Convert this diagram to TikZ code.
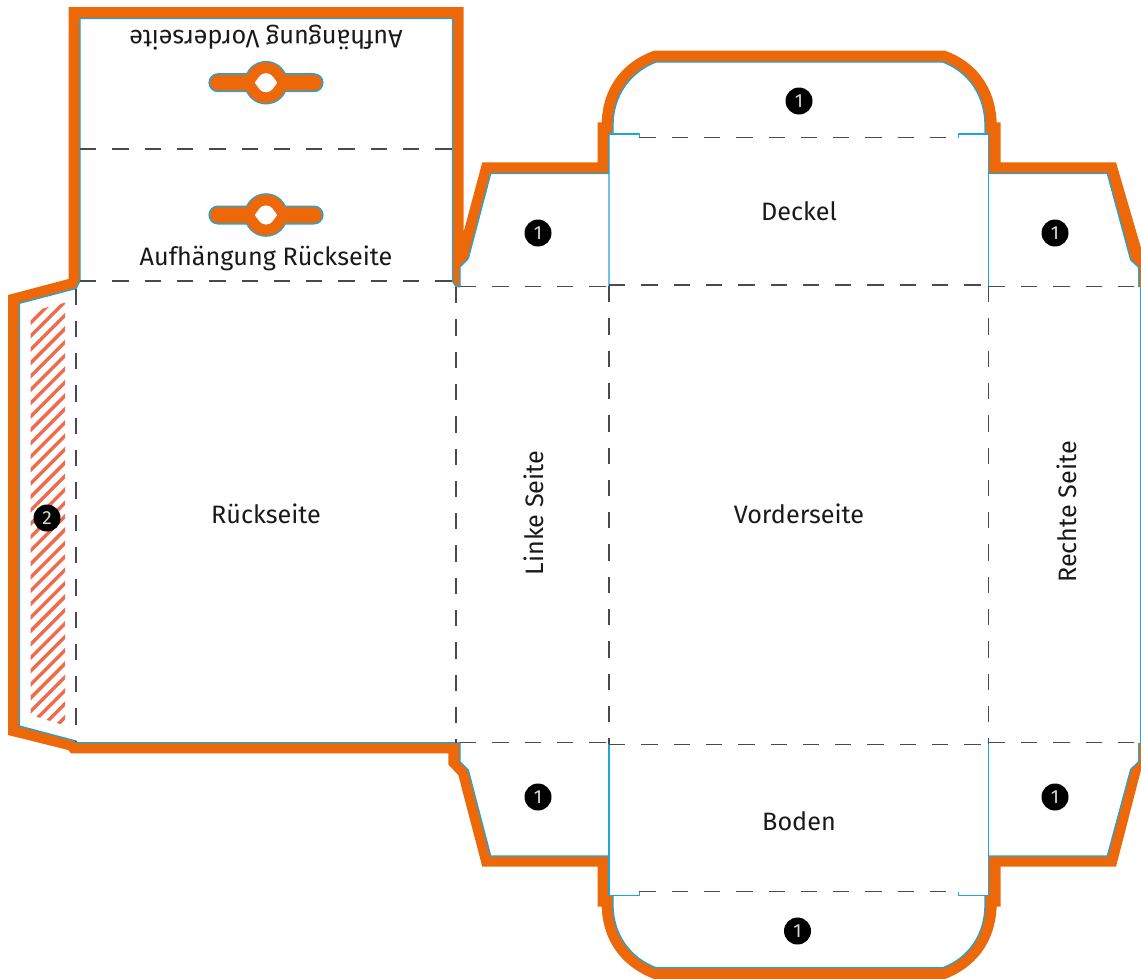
\documentclass[tikz,border=0pt]{standalone}
\usepackage{fontspec}
\setmainfont{Fira Sans}[Scale=1]
\definecolor{cutorange}{HTML}{ED6808}
\definecolor{cutblue}{HTML}{1DA5DC}
\definecolor{hatchred}{HTML}{EE6C4D}
\definecolor{foldgray}{HTML}{4A4A4A}
\tikzset{
  foldline/.style={draw=foldgray,line width=1.3pt,dash pattern=on 16.3pt off 16pt},
  cutline/.style={draw=cutblue,line width=1.3pt,line join=round},
  label/.style={font=\fontsize{25.2}{29}\selectfont,text=black!90,inner sep=0pt},
  badge/.style={circle,fill=black,text=white!85!black,minimum size=27pt,inner sep=0pt,font=\fontsize{19}{22}\selectfont},
}
\begin{document}
\begin{tikzpicture}[x=1pt,y=-1pt]
\useasboundingbox (0,0) rectangle (1141,978);
\clip (0,0) rectangle (1141,978);
% hatch
\begin{scope}
\clip (30.7,311.7) -- (65,302.7) -- (65,725.5) -- (30.7,715) -- cycle;
\foreach \k in {0,...,36}{
  \draw[hatchred,line width=3.4pt] (20,{320+\k*13.4}) -- (80,{260+\k*13.4});
}
\end{scope}
% orange body with inner hole
\fill[cutorange,even odd rule]
 (68.5,7) -- (463.7,7) -- (463.7,231.7) -- (482.3,162.3) -- (597.7,162.3) -- (597.7,122.3) -- (601.7,122.3)
 .. controls (603,85) and (625,61) .. (654,50.7) -- (945,50.7)
 .. controls (974,61) and (995,85) .. (996.7,122.3) -- (1000.7,122.3) -- (1000.7,162.3) -- (1116,162.3)
 -- (1141,248) -- (1141,770) -- (1116,866.7) -- (1000.7,866.7) -- (1000.7,906.7) -- (996.7,906.7)
 .. controls (995,944) and (974,968) .. (945,979) -- (654,979)
 .. controls (625,968) and (603,944) .. (601.7,906.7) -- (597.7,906.7) -- (597.7,866.7) -- (482.3,866.7)
 -- (458.3,775) -- (448.3,764.5) -- (448.3,753.3) -- (71,753.3) -- (68.3,750) -- (8,735) -- (8,295) -- (68.5,279) -- cycle
 (80,18.4) -- (452.4,18.4) -- (452.4,281) -- (456,286.7) -- (460,286.7) -- (460,267) -- (468.3,258.5) -- (490.7,173.5) -- (609,173.5)
 -- (609,134) -- (613,134) -- (613,125) .. controls (613,96) and (630,72) .. (656,62) -- (942.7,62)
 .. controls (969,72) and (985,96) .. (985,125) -- (985,134) -- (988.8,134) -- (988.8,173.5) -- (1107.3,173.5)
 -- (1130.7,260) -- (1138.7,267.3) -- (1138.7,287) -- (1140,287) -- (1140,743) -- (1138.7,743) -- (1138.7,761.7) -- (1130.7,769.3)
 -- (1107.3,856) -- (988.8,856) -- (988.8,895.3) -- (985,895.3) -- (985,905) .. controls (985,934) and (969,958) .. (942.7,967.7)
 -- (656,967.7) .. controls (630,958) and (613,934) .. (613,905) -- (613,895.3) -- (609,895.3) -- (609,856)
 -- (490.7,856) -- (468.3,770) -- (460,761.7) -- (460,742.8) -- (77,742.8) -- (76,741) -- (19.4,726) -- (19.4,303.3) -- (76,288.5) -- (80,281) -- cycle;
% blue cut outline
\draw[cutline]
 (80,18.4) -- (452.4,18.4) -- (452.4,281) -- (456,286.7) -- (460,286.7) -- (460,267) -- (468.3,258.5) -- (490.7,173.5) -- (609,173.5)
 (609,134) -- (609,286);
\draw[cutline] (639.3,138) -- (639.3,134) -- (609,134);
\draw[cutline] (613,134) -- (613,125) .. controls (613,96) and (630,72) .. (656,62) -- (942.7,62)
 .. controls (969,72) and (985,96) .. (985,125) -- (985,134);
\draw[cutline] (958.3,138) -- (958.3,134) -- (988.8,134) -- (988.8,286);
\draw[cutline] (988.8,173.5) -- (1107.3,173.5)
 -- (1130.7,260) -- (1138.7,267.3) -- (1138.7,287);
\draw[cutline] (1140.3,287) -- (1140.3,743);
\draw[cutline] (1138.7,743) -- (1138.7,761.7) -- (1130.7,769.3) -- (1107.3,856) -- (988.8,856);
\draw[cutline] (988.8,744) -- (988.8,895.3) -- (958.3,895.3) -- (958.3,891.7);
\draw[cutline] (985,895.3) -- (985,905) .. controls (985,934) and (969,958) .. (942.7,967.7)
 -- (656,967.7) .. controls (630,958) and (613,934) .. (613,905) -- (613,895.3);
\draw[cutline] (639.3,891.7) -- (639.3,895.3) -- (609,895.3) -- (609,744);
\draw[cutline] (609,856) -- (490.7,856) -- (468.3,770) -- (460,761.7) -- (460,742.8) -- (77,742.8) -- (76,741) -- (19.4,726) -- (19.4,303.3) -- (76,288.5) -- (80,281) -- (80,18.4);
% fold lines
\draw[foldline] (80,149) -- (452.4,149);
\draw[foldline] (80,281) -- (452.4,281);
\draw[foldline] (76,288.5) -- (76,741);
\draw[foldline] (456,287) -- (456,743);
\draw[foldline] (609,286) -- (609,744);
\draw[foldline] (988.8,286) -- (988.8,744);
\draw[foldline] (460,286.8) -- (609,286.8);
\draw[foldline] (609,285) -- (988.8,285);
\draw[foldline] (988.8,286.8) -- (1139,286.8);
\draw[foldline] (460,742.8) -- (609,742.8);
\draw[foldline] (609,744.4) -- (988.8,744.4);
\draw[foldline] (988.8,742.8) -- (1139,742.8);
\draw[foldline] (639.3,137.5) -- (958.3,137.5);
\draw[foldline] (639.3,891.7) -- (958.3,891.7);
% hang slots
\foreach \cy in {82.7,215}{
  \fill[cutblue,rounded corners=9.5pt] (208.4,\cy-9.5) rectangle (323.6,\cy+9.5);
  \fill[cutblue] (266,\cy) circle[radius=21.8];
  \fill[cutorange,rounded corners=8pt] (210,\cy-8) rectangle (322,\cy+8);
  \fill[cutorange] (266,\cy) circle[radius=20.6];
  \fill[white] (254.8,\cy) .. controls (258,\cy-4) and (260,\cy-9.6) .. (266,\cy-9.6)
     .. controls (272,\cy-9.6) and (274,\cy-4) .. (277.2,\cy)
     .. controls (274,\cy+4) and (272,\cy+9.6) .. (266,\cy+9.6)
     .. controls (260,\cy+9.6) and (258,\cy+4) .. (254.8,\cy) -- cycle;
}
% labels
\node[label,rotate=180] (hangfront) at (266,38) {Aufhängung Vorderseite};
\node[label] (hangback) at (266,258) {Aufhängung Rückseite};
\node[label] (back) at (266,514) {Rückseite};
\node[label] (front) at (799,514) {Vorderseite};
\node[label] (lid) at (799,211) {Deckel};
\node[label] (bottom) at (799,821) {Boden};
\node[label,rotate=90] (leftside) at (534,513) {Linke Seite};
\node[label,rotate=90] (rightside) at (1067,512) {Rechte Seite};
% badges
\node[badge] (b1) at (538,233) {1};
\node[badge] (b2) at (1055,233) {1};
\node[badge] (b3) at (538,797) {1};
\node[badge] (b4) at (1055,797) {1};
\node[badge] (b5) at (799,101) {1};
\node[badge] (b6) at (797.5,931) {1};
\node[badge] (b7) at (47,518) {2};
\end{tikzpicture}
\end{document}
